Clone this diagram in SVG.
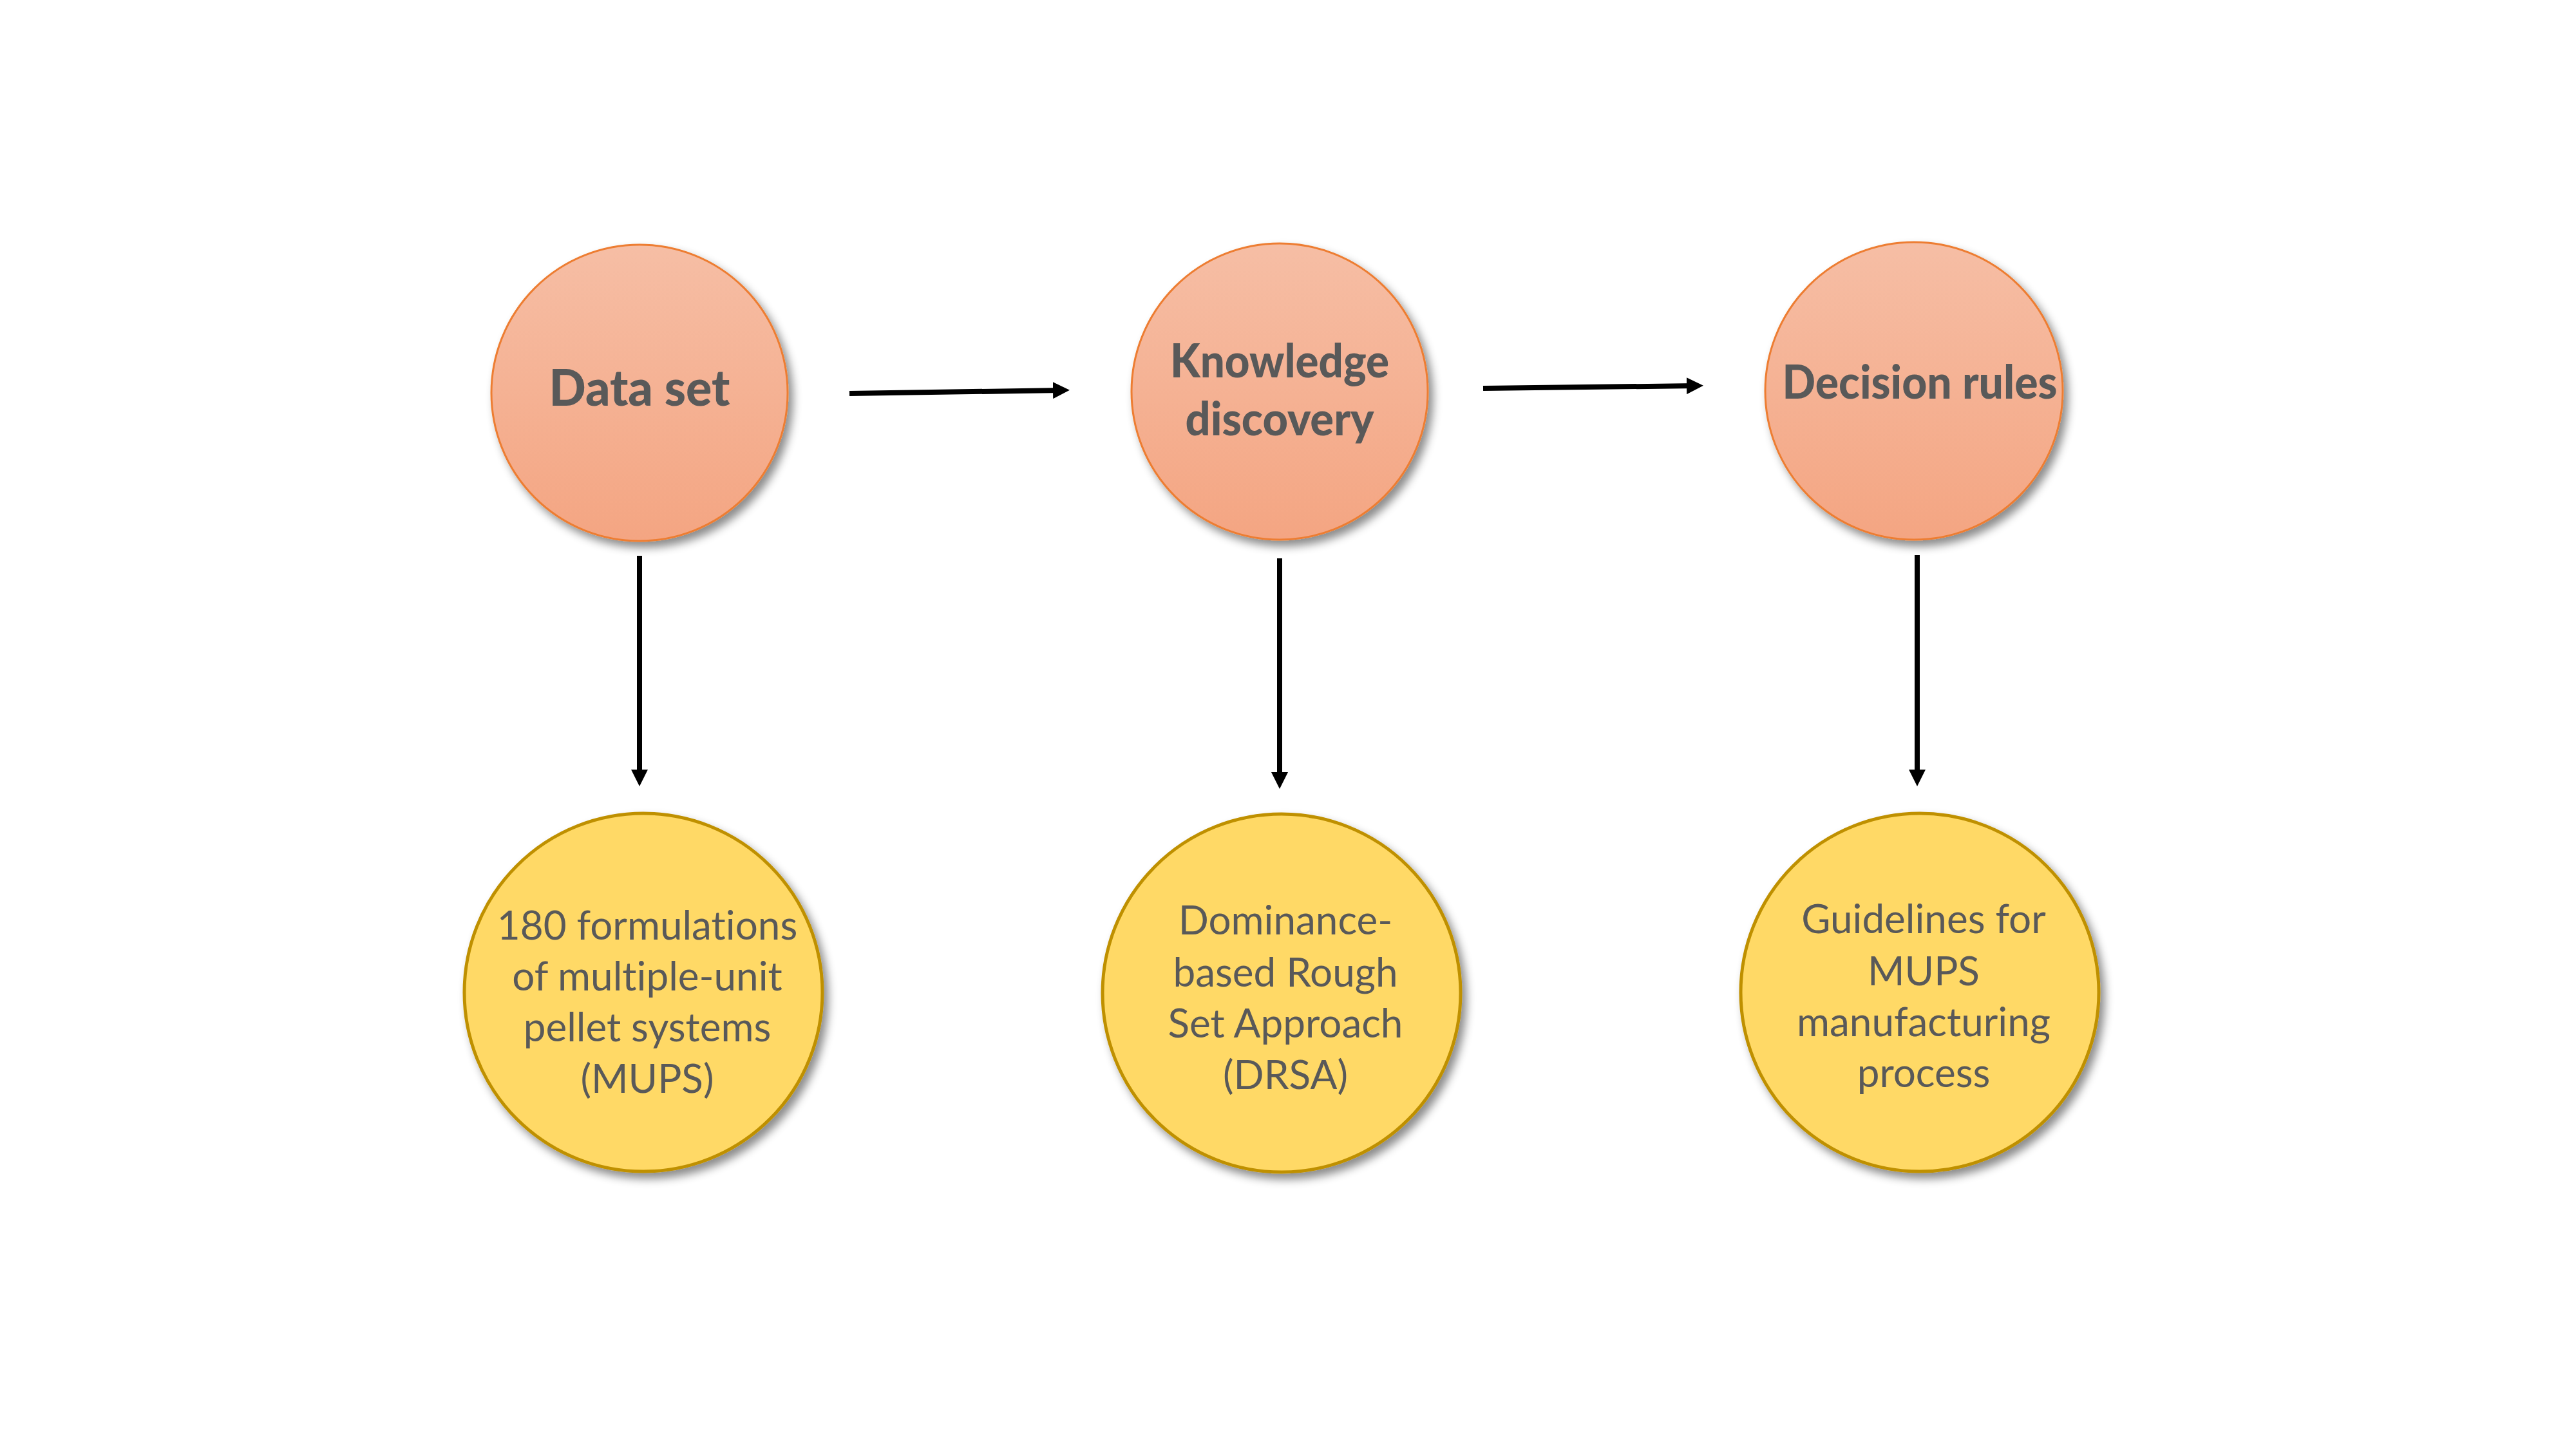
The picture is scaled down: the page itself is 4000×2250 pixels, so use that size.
<svg xmlns="http://www.w3.org/2000/svg" width="4000" height="2250" viewBox="0 0 4000 2250">
<style>
.top{fill:url(#gTop);stroke:#ED7D31;stroke-width:3;filter:url(#sh)}
.bot{fill:#FFD966;stroke:#BF9000;stroke-width:5;filter:url(#sh)}
.tt{font-family:Lato,"Open Sans",sans-serif;font-weight:900;font-size:72px;fill:#595959;text-anchor:middle;font-variant-ligatures:none}
.bt{font-family:Lato,"Open Sans",sans-serif;font-size:62px;fill:#595959;text-anchor:middle;font-variant-ligatures:none}
.c{stroke:#000;stroke-width:8;fill:none}
</style>
<defs>
<linearGradient id="gTop" x1="0" y1="0" x2="0" y2="1">
<stop offset="0" stop-color="#F6BEA5"/>
<stop offset="1" stop-color="#F4A582"/>
</linearGradient>
<filter id="sh" x="-20%" y="-20%" width="150%" height="150%">
<feDropShadow dx="7" dy="9" stdDeviation="7" flood-color="#000" flood-opacity="0.45"/>
</filter>
<marker id="ah" markerUnits="userSpaceOnUse" markerWidth="26" markerHeight="26" refX="14" refY="13" orient="auto">
<path d="M0,0 L26,13 L0,26 Z" fill="#000"/>
</marker>
</defs>
<rect width="4000" height="2250" fill="#fff"/>
<g id="connectors">
<line class="c" x1="1319" y1="611" x2="1649" y2="606" marker-end="url(#ah)"/>
<line class="c" x1="2303" y1="603" x2="2633" y2="599" marker-end="url(#ah)"/>
<line class="c" x1="993" y1="863" x2="993" y2="1209" marker-end="url(#ah)"/>
<line class="c" x1="1987" y1="867" x2="1987" y2="1213" marker-end="url(#ah)"/>
<line class="c" x1="2977" y1="862" x2="2977" y2="1209" marker-end="url(#ah)"/>
</g>
<g id="n-dataset">
<circle class="top" cx="993" cy="610" r="230"/>
<text class="tt" x="993" y="630" style="font-size:78px" textLength="281" lengthAdjust="spacingAndGlyphs">Data set</text>
</g>
<g id="n-knowledge">
<circle class="top" cx="1987" cy="608" r="230"/>
<text class="tt" x="1987" y="586" textLength="340" lengthAdjust="spacingAndGlyphs">Knowledge</text>
<text class="tt" x="1987" y="676" textLength="293" lengthAdjust="spacingAndGlyphs">discovery</text>
</g>
<g id="n-decision">
<circle class="top" cx="2972" cy="607" r="231"/>
<text class="tt" x="2981" y="619" textLength="427" lengthAdjust="spacingAndGlyphs">Decision rules</text>
</g>
<g id="n-mups">
<circle class="bot" cx="999" cy="1541" r="278"/>
<text class="bt" x="1005" y="1459">180 formulations</text>
<text class="bt" x="1005" y="1538">of multiple-unit</text>
<text class="bt" x="1005" y="1617">pellet systems</text>
<text class="bt" x="1005" y="1697">(MUPS)</text>
</g>
<g id="n-drsa">
<circle class="bot" cx="1990" cy="1542" r="278"/>
<text class="bt" x="1996" y="1451">Dominance-</text>
<text class="bt" x="1996" y="1532">based Rough</text>
<text class="bt" x="1996" y="1611">Set Approach</text>
<text class="bt" x="1996" y="1691">(DRSA)</text>
</g>
<g id="n-guidelines">
<circle class="bot" cx="2981" cy="1541" r="278"/>
<text class="bt" x="2987" y="1449">Guidelines for</text>
<text class="bt" x="2987" y="1530">MUPS</text>
<text class="bt" x="2987" y="1609">manufacturing</text>
<text class="bt" x="2987" y="1688">process</text>
</g>
</svg>
